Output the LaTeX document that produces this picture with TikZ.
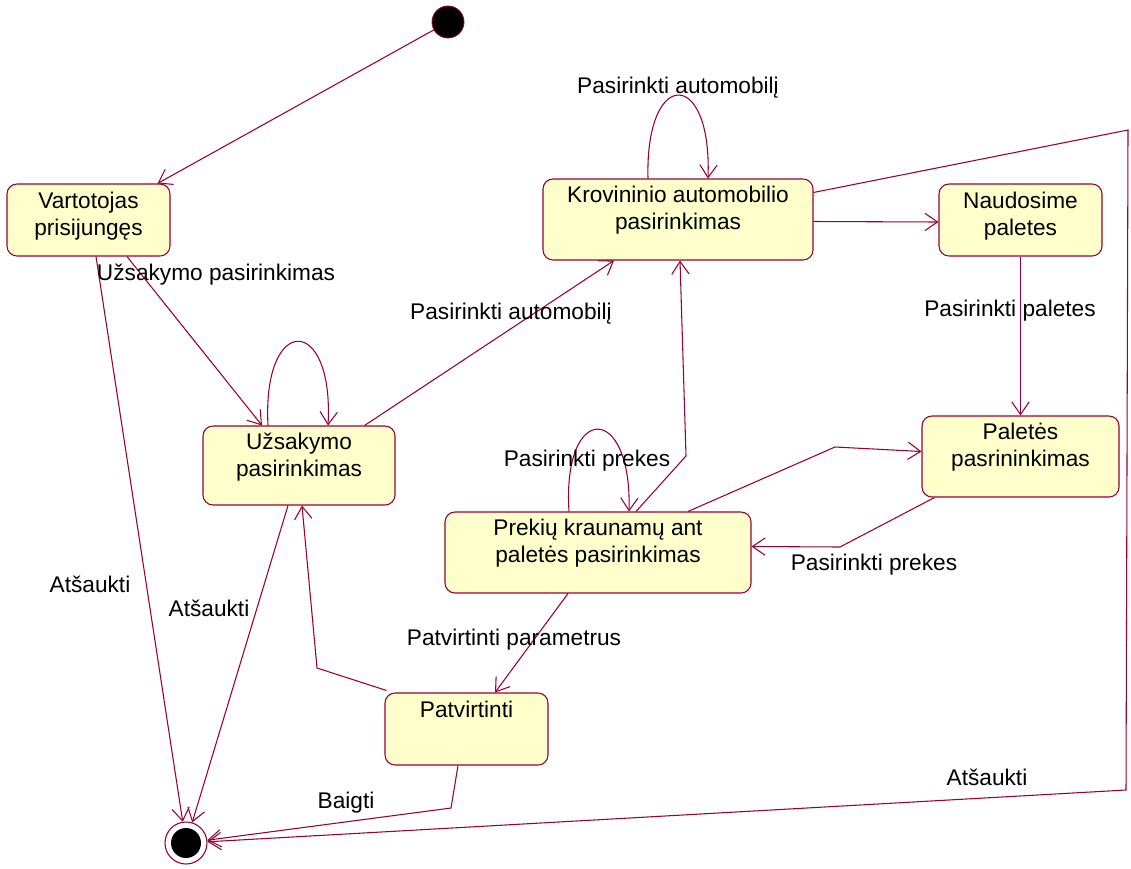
\documentclass[tikz,border=0pt]{standalone}
\usepackage{fontspec}
\setmainfont{Liberation Sans}
\usetikzlibrary{arrows.meta,calc}
\definecolor{edgered}{RGB}{153,0,51}
\definecolor{statefill}{RGB}{255,255,204}
\begin{document}
\begin{tikzpicture}[x=0.75pt,y=-0.75pt,
  font=\fontsize{17}{20.3}\selectfont,
  flow/.style={draw=edgered, line width=0.8pt, -{Straight Barb[length=9.5pt,width=13pt]}},
  state/.style={draw=edgered, fill=statefill, rounded corners=7.5pt, line width=0.8pt, inner sep=0pt},
  box/.style 2 args={state, minimum width=#1*0.75pt, minimum height=#2*0.75pt},
  stext/.style={anchor=north, align=center, inner sep=0pt},
  lbl/.style={inner sep=0pt},
]
\useasboundingbox (0,0) rectangle (1131,868);

% pseudo states
\node[circle, fill=black, draw=edgered, line width=0.6pt, minimum size=32*0.75pt, inner sep=0pt] (init) at (448,22) {};
\node[circle, fill=white, draw=edgered, line width=0.8pt, minimum size=42*0.75pt, inner sep=0pt] (fin) at (186,843) {};
\node[circle, fill=black, minimum size=30*0.75pt, inner sep=0pt] (finDot) at (fin) {};

% states
\node[box={163}{72}] (vart) at (88.5,220) {};
\node[stext] (vartT) at ($(vart.north)+(0,8)$) {Vartotojas\\prisijungęs};
\node[box={270}{81}] (krov) at (678,219.5) {};
\node[stext] (krovT) at ($(krov.north)+(0,7)$) {Krovininio automobilio\\pasirinkimas};
\node[box={163}{72}] (naud) at (1020.5,220) {};
\node[stext] (naudT) at ($(naud.north)+(0,8)$) {Naudosime\\paletes};
\node[box={192}{79}] (uzs) at (299,465.5) {};
\node[stext] (uzsT) at ($(uzs.north)+(0,7)$) {Užsakymo\\pasirinkimas};
\node[box={197}{81}] (pal) at (1020.5,456.5) {};
\node[stext] (palT) at ($(pal.north)+(0,7)$) {Paletės\\pasrininkimas};
\node[box={306}{81}] (prek) at (598,552.5) {};
\node[stext] (prekT) at ($(prek.north)+(0,7)$) {Prekių kraunamų ant\\paletės pasirinkimas};
\node[box={163}{72}] (patv) at (466.5,729) {};
\node[stext] (patvT) at ($(patv.north)+(0,8)$) {Patvirtinti};

% transitions
\draw[flow] (init) -- ($(vart.north east)+(-13,0)$);
\draw[flow] ($(vart.south)+(38.5,0)$) -- ($(uzs.north)+(-37,0)$);
\draw[flow] ($(vart.south)+(7.5,0)$) -- (fin);
\draw[flow] ($(uzs.north)+(-31,0)$) .. controls ($(uzs.north)+(-37,-112)$) and ($(uzs.north)+(35,-112)$) .. ($(uzs.north)+(29,0)$);
\draw[flow] ($(uzs.north east)+(-31,0)$) -- ($(krov.south)+(-64,0)$);
\draw[flow] ($(uzs.south)+(-11,0)$) -- (fin);
\draw[flow] ($(krov.north)+(-30,0)$) .. controls ($(krov.north)+(-33,-111)$) and ($(krov.north)+(34,-111)$) .. ($(krov.north)+(30,0)$);
\draw[flow] ($(krov.east)+(0,2)$) -- ($(naud.west)+(0,2)$);
\draw[flow] ($(krov.north east)+(0,14)$) -- (1128,130) -- (1126,790) -- (fin);
\draw[flow] (naud.south) -- (pal.north);
\draw[flow] ($(prek.north)+(90,0)$) -- (835,447) -- ($(pal.west)+(0,-5)$);
\draw[flow] ($(pal.south west)+(13,0)$) -- (840,547) -- ($(prek.east)+(0,-6)$);
\draw[flow] ($(prek.north)+(-29,0)$) .. controls ($(prek.north)+(-36,-109.5)$) and ($(prek.north)+(34,-109.5)$) .. ($(prek.north)+(31,0)$);
\draw[flow] ($(prek.north)+(38,0)$) -- (686,456) -- ($(krov.south)+(2,0)$);
\draw[flow] ($(prek.south)+(-30,0)$) -- ($(patv.north)+(28.5,0)$);
\draw[flow] ($(patv.north west)+(2,-2)$) -- (317,668) -- ($(uzs.south)+(3,0)$);
\draw[flow] ($(patv.south)+(-8.5,0)$) -- (451,808) -- (fin);

% transition labels
\node[lbl] (l1) at (216,275) {Užsakymo pasirinkimas};
\node[lbl] (l2) at (90,584) {Atšaukti};
\node[lbl] (l3) at (209,608) {Atšaukti};
\node[lbl] (l4) at (511,314) {Pasirinkti automobilį};
\node[lbl] (l5) at (678,88) {Pasirinkti automobilį};
\node[lbl] (l6) at (1010,311) {Pasirinkti paletes};
\node[lbl] (l7) at (587,461) {Pasirinkti prekes};
\node[lbl] (l8) at (874,565) {Pasirinkti prekes};
\node[lbl] (l9) at (514,640) {Patvirtinti parametrus};
\node[lbl] (l10) at (346,803) {Baigti};
\node[lbl] (l11) at (987,777) {Atšaukti};
\end{tikzpicture}
\end{document}
